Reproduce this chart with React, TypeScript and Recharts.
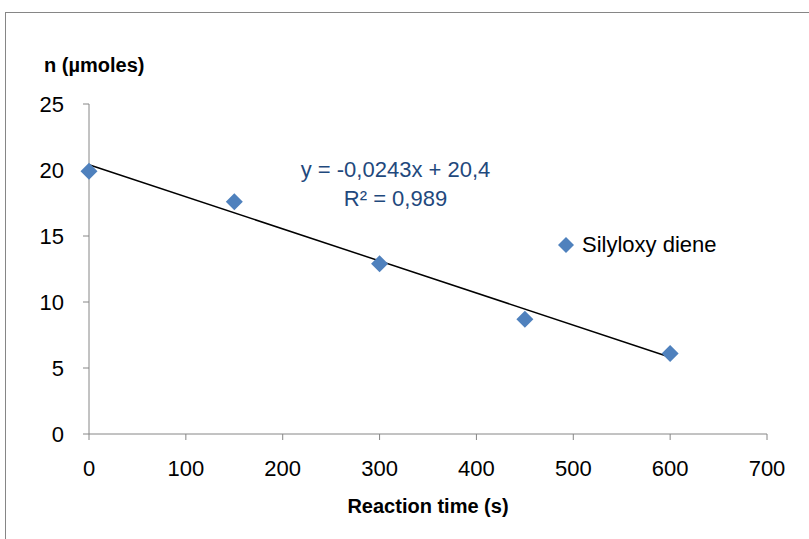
import React from "react";
import {
  ScatterChart,
  Scatter,
  XAxis,
  YAxis,
  ReferenceLine,
  Legend,
  Customized,
} from "recharts";

const times = [0, 150, 300, 450, 600];
const moles = [19.9, 17.6, 12.9, 8.7, 6.1];
const xTicks = [0, 100, 200, 300, 400, 500, 600, 700];
const yTicks = [0, 5, 10, 15, 20, 25];
const seriesName = "Silyloxy diene";
const trendSlope = -0.0243;
const trendIntercept = 20.4;
const trendStart = 0;
const trendEnd = 600;
const trendEquation = "y = -0,0243x + 20,4";
const trendR2 = "R² = 0,989";
const xTitle = "Reaction time (s)";
const yTitle = "n (µmoles)";

const data = times.map((t, i) => ({ x: t, y: moles[i] }));
const trendSegment = [
  { x: trendStart, y: trendIntercept + trendSlope * trendStart },
  { x: trendEnd, y: trendIntercept + trendSlope * trendEnd },
];

const FONT = "'Liberation Sans', Arial, sans-serif";
const AXIS = "#868686";
const BLUE = "#4F81BD";

const Diamond = (props: any) => {
  const { cx, cy } = props;
  const r = 8.5;
  return (
    <polygon
      points={`${cx},${cy - r} ${cx + r},${cy} ${cx},${cy + r} ${cx - r},${cy}`}
      fill={BLUE}
    />
  );
};

const LegendContent = () => (
  <div style={{ display: "flex", alignItems: "center", fontFamily: FONT, fontSize: 22, color: "#000", whiteSpace: "nowrap" }}>
    <svg width={18} height={18} style={{ marginRight: 7 }}>
      <polygon points="9,1 17,9 9,17 1,9" fill={BLUE} />
    </svg>
    <span>{seriesName}</span>
  </div>
);

const TrendLabel = (props: any) => {
  const xAxisMap = props.xAxisMap;
  const yAxisMap = props.yAxisMap;
  return (
    <g>
      <text x={395.5} y={177} textAnchor="middle" fontFamily={FONT} fontSize={22} fill="#1F497D">
        {trendEquation}
      </text>
      <text x={395.5} y={206} textAnchor="middle" fontFamily={FONT} fontSize={22} fill="#1F497D">
        {trendR2}
      </text>
    </g>
  );
};

export default function App() {
  return (
    <div style={{ position: "absolute", left: 0, top: 0, width: 809, height: 539, overflow: "hidden", background: "#fff" }}>
      <div
        style={{
          position: "absolute",
          left: 5,
          top: 12,
          width: 900,
          height: 700,
          border: `1px solid ${AXIS}`,
          boxSizing: "border-box",
        }}
      />
      <div style={{ position: "absolute", left: 0, top: 0 }}>
        <ScatterChart
          width={809}
          height={539}
          margin={{ top: 104, right: 42, bottom: 75, left: 29 }}
        >
          <XAxis
            type="number"
            dataKey="x"
            domain={[0, 700]}
            ticks={xTicks}
            interval={0}
            height={30}
            stroke={AXIS}
            tickSize={6}
            tickMargin={20}
            tick={{ fill: "#000", fontFamily: FONT, fontSize: 22 }}
            label={{
              value: xTitle,
              position: "bottom",
              offset: 35,
              style: { fontFamily: FONT, fontSize: 20, fontWeight: "bold", fill: "#000" },
            }}
          />
          <YAxis
            type="number"
            dataKey="y"
            domain={[0, 25]}
            ticks={yTicks}
            interval={0}
            width={60}
            stroke={AXIS}
            tickSize={6}
            tickMargin={19}
            tick={{ fill: "#000", fontFamily: FONT, fontSize: 22 }}
            label={{
              value: yTitle,
              content: () => (
                <text x={44} y={72} fontFamily={FONT} fontSize={20} fontWeight="bold" fill="#000">
                  {yTitle}
                </text>
              ),
            }}
          />
          <Scatter
            name={seriesName}
            data={data}
            fill={BLUE}
            shape={Diamond}
            isAnimationActive={false}
          />
          <ReferenceLine
            segment={trendSegment}
            stroke="#000"
            strokeWidth={1.5}
            ifOverflow="visible"
          />
          <Legend
            layout="horizontal"
            verticalAlign="middle"
            align="center"
            content={LegendContent}
            wrapperStyle={{ position: "absolute", left: 557, top: 232, width: "auto" }}
          />
          <Customized component={TrendLabel} />
        </ScatterChart>
      </div>
    </div>
  );
}
